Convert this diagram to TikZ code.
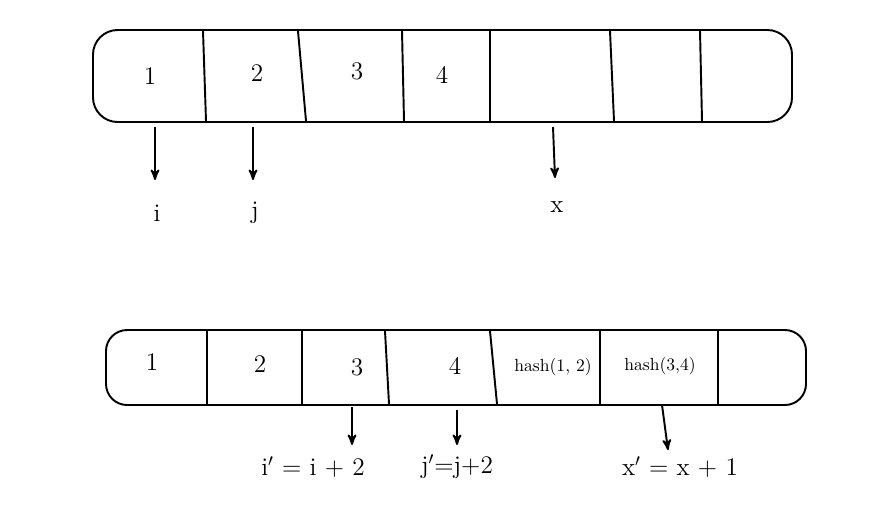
\documentclass[tikz,border=0pt]{standalone}
\usepackage{tikz}
\usetikzlibrary{arrows,positioning}

\begin{document}
\begin{tikzpicture}[x=0.02cm,y=-0.02cm,>=stealth',line width=1.1pt]
    % Styles
    \tikzstyle{cell}=[font=\Large]
    \tikzstyle{small cell}=[font=\normalsize]
    \tikzstyle{var}=[font=\Large]
    \useasboundingbox (0,0) rectangle (884,515);

    % Top array
    \draw[rounded corners=14pt] (93,30) rectangle (792,122);
    \foreach \xa/\xb in {203/206,298/306,402/404,490/490,610/614,700/702}
        \draw (\xa,31) -- (\xb,121);
    \node[cell] (t1) at (150,76) {1};
    \node[cell] (t2) at (257,73) {2};
    \node[cell] (t3) at (357,71) {3};
    \node[cell] (t4) at (442,75) {4};

    % Top pointers
    \coordinate (ti) at (155,127);
    \coordinate (tj) at (253,127);
    \coordinate (tx) at (553,127);
    \node[var] (i) at (157,213) {i};
    \node[var] (j) at (255,213) {j};
    \node[var] (x) at (557,207) {x};
    \draw[->] (ti) -- (ti |- 0,180);
    \draw[->] (tj) -- (tj |- 0,180);
    \draw[->] (tx) -- (555,178);

    % Bottom array
    \draw[rounded corners=12pt] (106,330) rectangle (806,405);
    \foreach \xa/\xb in {207/207,302/302,385/389,490/497,600/600,718/718}
        \draw (\xa,331) -- (\xb,404);
    \node[cell] (b1) at (152,362) {1};
    \node[cell] (b2) at (260,364) {2};
    \node[cell] (b3) at (357,367) {3};
    \node[cell] (b4) at (455,366) {4};
    \node[small cell] (b5) at (553,367) {hash(1, 2)};
    \node[small cell] (b6) at (660,366) {hash(3,4)};

    % Bottom pointers
    \coordinate (bi) at (352,407);
    \coordinate (bj) at (457,410);
    \coordinate (bx) at (662,405);
    \node[var] (i2) at (313,467) {i$'$ = i + 2};
    \node[var] (j2) at (457,467) {j$'$=j+2};
    \node[var] (x2) at (680,467) {x$'$ = x + 1};
    \draw[->] (bi) -- (352,445);
    \draw[->] (bj) -- (457,445);
    \draw[->] (bx) -- (668,450);
\end{tikzpicture}
\end{document}
